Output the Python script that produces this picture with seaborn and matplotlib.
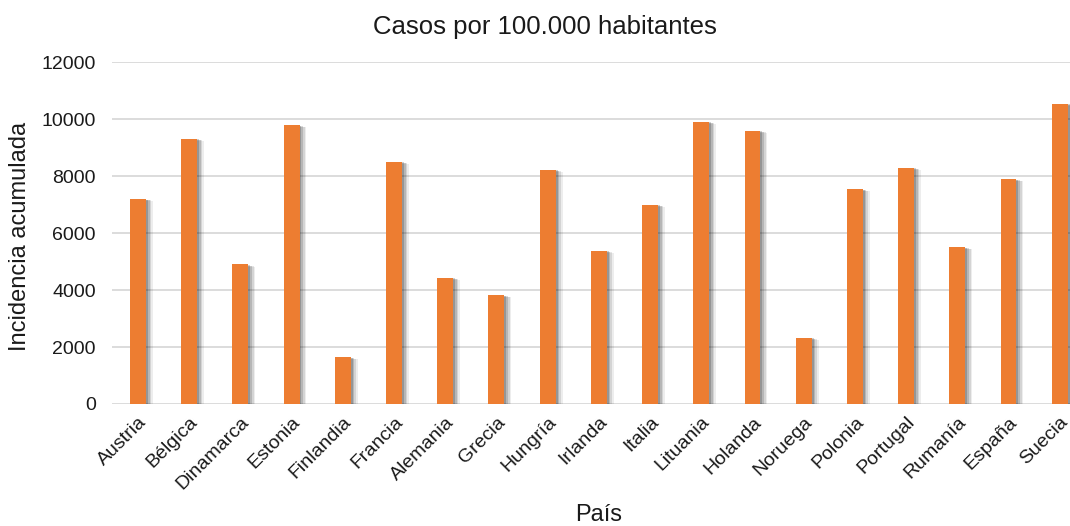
import matplotlib
matplotlib.use("Agg")
import matplotlib.pyplot as plt
import matplotlib.patheffects as pe
import seaborn as sns
import pandas as pd

paises = ["Austria", "Bélgica", "Dinamarca", "Estonia", "Finlandia", "Francia",
          "Alemania", "Grecia", "Hungría", "Irlanda", "Italia", "Lituania",
          "Holanda", "Noruega", "Polonia", "Portugal", "Rumanía", "España", "Suecia"]
incidencia = [7200, 9310, 4900, 9790, 1650, 8500, 4430, 3820, 8230, 5380,
              7000, 9920, 9590, 2320, 7550, 8290, 5510, 7890, 10540]
yticks = [0, 2000, 4000, 6000, 8000, 10000, 12000]

df = pd.DataFrame({"País": paises, "Incidencia": incidencia})

sns.set_theme(style="white")
plt.rcParams["font.family"] = ["Liberation Sans", "DejaVu Sans"]

fig = plt.figure(figsize=(10.7, 5.26), dpi=100)
ax = fig.add_axes([0.105, 0.232, 0.895, 0.6496])

sns.barplot(data=df, x="País", y="Incidencia", color="#ED7D31", width=0.31,
            saturation=1, ax=ax, zorder=3)

# soft drop shadow to the right of each bar
shadow = [
    pe.SimplePatchShadow(offset=(5.0, -1.5), shadow_rgbFace="#000000", alpha=0.07),
    pe.SimplePatchShadow(offset=(3.8, -1.1), shadow_rgbFace="#000000", alpha=0.10),
    pe.SimplePatchShadow(offset=(2.6, -0.8), shadow_rgbFace="#000000", alpha=0.14),
    pe.SimplePatchShadow(offset=(1.4, -0.4), shadow_rgbFace="#000000", alpha=0.18),
    pe.Normal(),
]
for p in ax.patches:
    p.set_path_effects(shadow)
    p.set_linewidth(0)

ax.set_ylim(0, 12000)
ax.set_yticks(yticks)
ax.set_yticklabels([str(v) for v in yticks], fontsize=14, color="#1a1a1a")
ax.set_xlim(-0.5, 18.2)
ax.yaxis.grid(True, color="#d9d9d9", linewidth=1.3, zorder=0)
ax.set_axisbelow(True)
for s in ax.spines.values():
    s.set_visible(False)
ax.tick_params(axis="both", length=0)
ax.tick_params(axis="y", pad=12)
ax.tick_params(axis="x", pad=7)

for lbl in ax.get_xticklabels():
    lbl.set_rotation(45)
    lbl.set_ha("right")
    lbl.set_rotation_mode("anchor")
    lbl.set_fontsize(14)
    lbl.set_color("#1a1a1a")

ax.set_xlabel("")
ax.set_ylabel("")
fig.text(0.509, 0.949, "Casos por 100.000 habitantes", ha="center", va="center",
         fontsize=18.5, color="#1a1a1a")
fig.text(0.019, 0.551, "Incidencia acumulada", ha="center", va="center",
         rotation=90, fontsize=17, color="#1a1a1a")
fig.text(0.559, 0.021, "País", ha="center", va="center", fontsize=17,
         color="#1a1a1a")

fig.savefig("out.png", dpi=100)
